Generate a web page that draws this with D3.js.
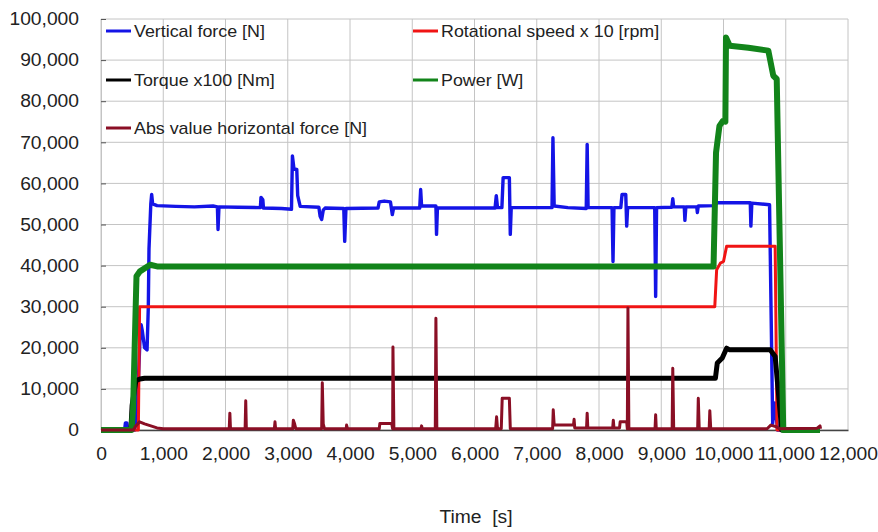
<!DOCTYPE html>
<html>
<head>
<meta charset="utf-8">
<script src="https://cdn.jsdelivr.net/npm/d3@7/dist/d3.min.js"></script>
<style>
  html, body { margin: 0; padding: 0; background: #fff; }
  svg { display: block; font-family: "Liberation Sans", Arial, sans-serif; }
</style>
</head>
<body>
<svg id="chart" width="878" height="532"></svg>
<script>
// ---------- data (time [s], value) ----------
const xTicks = [0, 1000, 2000, 3000, 4000, 5000, 6000, 7000, 8000, 9000, 10000, 11000, 12000];
const yTicks = [0, 10000, 20000, 30000, 40000, 50000, 60000, 70000, 80000, 90000, 100000];
const xTitle = "Time  [s]";

const seriesNames = ["Vertical force [N]", "Rotational speed x 10 [rpm]", "Torque x100 [Nm]", "Power [W]", "Abs value horizontal force [N]"];
const seriesColors = ["#1414e6", "#f01414", "#000000", "#12841a", "#8a0f25"];

const verticalForce = [
  [0,0],[380,0],[392,1700],[415,1700],[428,0],[540,0],[578,5600],[600,12000],[626,22000],[645,25600],
  [665,24000],[700,20000],[740,19500],[760,30000],[771,44000],[800,55000],[814,57300],[830,55000],
  [900,54600],[1200,54400],[1500,54300],[1800,54500],[1870,54300],[1880,48800],[1895,54300],
  [2200,54200],[2560,54100],[2570,56600],[2600,56000],[2610,54000],[2900,53900],[3060,53700],
  [3075,66700],[3100,63500],[3145,63400],[3160,57000],[3200,54400],[3500,54200],[3520,52000],
  [3545,51200],[3570,53500],[3600,54000],[3900,53900],[3915,45900],[3935,53900],[4450,54000],
  [4470,55500],[4550,55700],[4650,55500],[4680,52400],[4700,54000],[5120,54000],[5135,58500],
  [5150,54500],[5380,54500],[5390,47600],[5405,54000],[6330,54000],[6350,57000],[6370,54100],
  [6440,54100],[6460,61400],[6560,61400],[6575,47600],[6590,54100],[7245,54100],[7260,71100],
  [7280,54500],[7500,54100],[7795,53900],[7810,69500],[7825,54100],[8210,54100],[8225,41000],
  [8240,54100],[8350,54100],[8370,57300],[8430,57300],[8445,49600],[8460,54100],[8895,54100],
  [8910,32500],[8925,54100],[9170,54200],[9185,56300],[9200,54300],[9370,54300],[9380,51000],
  [9395,54300],[9570,54300],[9580,52900],[9595,54500],[9850,54600],[9900,55300],[10430,55300],
  [10440,49600],[10455,55200],[10740,54800],[10790,1600],[10823,6600],[10870,0],[11550,0]
];
const rotationalSpeed = [
  [0,0],[600,0],[620,30000],[9860,30000],[9890,39000],[9950,40600],[10000,41000],[10050,44700],
  [10830,44700],[10860,0],[11550,0]
];
const torque = [
  [0,0],[480,0],[500,6000],[560,12000],[626,12400],[700,12600],[9870,12600],[9900,16300],
  [9980,17500],[10050,19900],[10100,19500],[10750,19500],[10830,17900],[10935,0],[11550,0]
];
const power = [
  [0,0],[490,0],[515,4900],[570,37400],[626,38600],[790,40200],[900,39800],
  [9840,39800],[9880,67500],[9935,74000],[9990,75200],[10030,75000],[10040,95500],
  [10100,93500],[10400,93000],[10720,92300],[10800,86200],[10855,85400],[10960,0],[11550,0]
];
const horizontalForce = [
  [0,0],[520,0],[560,1000],[620,2000],[700,1500],[800,1000],[900,500],[1000,300],[2060,300],
  [2070,4100],[2080,300],[2315,300],[2325,7100],[2335,300],[2785,300],[2795,2000],[2805,300],
  [3080,300],[3090,2400],[3110,1500],[3130,300],[3545,300],[3555,11500],[3570,1500],[3590,300],
  [3940,300],[3945,1200],[3960,300],[4470,300],[4480,1600],[4670,1600],[4685,300],[4690,20200],
  [4705,300],[5140,300],[5150,1000],[5160,300],[5370,300],[5380,27200],[5395,300],[6340,300],
  [6355,3200],[6370,300],[6430,300],[6445,7700],[6560,7700],[6575,300],[7255,300],[7265,4900],
  [7280,1200],[7590,1200],[7600,2600],[7610,500],[7800,500],[7810,4100],[7820,500],[8220,500],
  [8230,2400],[8240,500],[8330,500],[8340,2000],[8445,2000],[8455,300],[8465,29700],[8480,300],
  [8900,300],[8910,3700],[8920,300],[9175,300],[9185,15000],[9200,300],[9585,300],[9595,7700],
  [9610,300],[9770,300],[9780,4700],[9795,300],[10700,300],[10760,1200],[10850,800],[10900,300],
  [11500,400],[11550,1000],[11560,300]
];

// ---------- chart ----------
const svg = d3.select("#chart");
const plot = { left: 101, right: 848, top: 19, bottom: 430 };
const FONT = "Liberation Sans, Arial, sans-serif";
const SX = 1.07; // horizontal stretch of the original's lettering

const x = d3.scaleLinear().domain([0, 12000]).range([plot.left, plot.right]);
const y = d3.scaleLinear().domain([0, 100000]).range([plot.bottom, plot.top]);

// gridlines
const grid = svg.append("g");
grid.selectAll("line.v").data(xTicks).join("line")
  .attr("x1", d => x(d)).attr("x2", d => x(d))
  .attr("y1", plot.top).attr("y2", plot.bottom)
  .attr("stroke", "#c4c4c4").attr("stroke-width", 1);
grid.selectAll("line.h").data(yTicks).join("line")
  .attr("x1", plot.left).attr("x2", plot.right)
  .attr("y1", d => y(d)).attr("y2", d => y(d))
  .attr("stroke", "#c4c4c4").attr("stroke-width", 1);

// y axis (labels + inner ticks)
const yAxis = d3.axisLeft(y).tickValues(yTicks).tickFormat(d3.format(",")).tickSize(-5).tickPadding(22);
const gy = svg.append("g").attr("transform", `translate(${plot.left},0)`).call(yAxis);
gy.select(".domain").attr("stroke", "#c4c4c4");
gy.selectAll(".tick line").attr("stroke", "#555");
gy.selectAll("text").attr("font-size", 18).attr("fill", "#222").attr("font-family", FONT)
  .attr("x", -22 / SX).attr("transform", `scale(${SX},1)`);

// x axis
const xAxis = d3.axisBottom(x).tickValues(xTicks).tickFormat(d3.format(",")).tickSize(0).tickPadding(17);
const gx = svg.append("g").attr("transform", `translate(0,${plot.bottom})`).call(xAxis);
gx.select(".domain").attr("stroke", "#444").attr("stroke-width", 1.5);
gx.selectAll("text").attr("font-size", 18).attr("fill", "#222").attr("font-family", FONT)
  .attr("transform", `scale(${SX},1)`);

// x title
svg.append("g").attr("transform", "translate(476,523)")
  .append("text").attr("text-anchor", "middle").attr("transform", `scale(${SX},1)`)
  .attr("font-size", 18).attr("fill", "#222").style("white-space", "pre").text(xTitle);

// lines
const line = d3.line().x(d => x(d[0])).y(d => y(d[1]));
const allSeries = [verticalForce, rotationalSpeed, torque, power, horizontalForce];
const widths = [3.4, 3, 5, 6, 3];
svg.append("g").selectAll("path").data(allSeries).join("path")
  .attr("d", d => line(d))
  .attr("fill", "none")
  .attr("stroke", (d, i) => seriesColors[i])
  .attr("stroke-width", (d, i) => widths[i])
  .attr("stroke-linejoin", "round");

// legend
const legendPos = [[106, 31], [413, 31], [106, 80], [413, 80], [106, 128]];
const lg = svg.append("g");
seriesNames.forEach((name, i) => {
  const [lx, ly] = legendPos[i];
  lg.append("line").attr("x1", lx).attr("x2", lx + 25).attr("y1", ly).attr("y2", ly)
    .attr("stroke", seriesColors[i]).attr("stroke-width", 3);
  lg.append("g").attr("transform", `translate(${lx + 28},${ly + 6})`)
    .append("text").attr("transform", `scale(1.05,1)`)
    .attr("font-size", 17).attr("fill", "#222").text(name);
});
</script>
</body>
</html>
